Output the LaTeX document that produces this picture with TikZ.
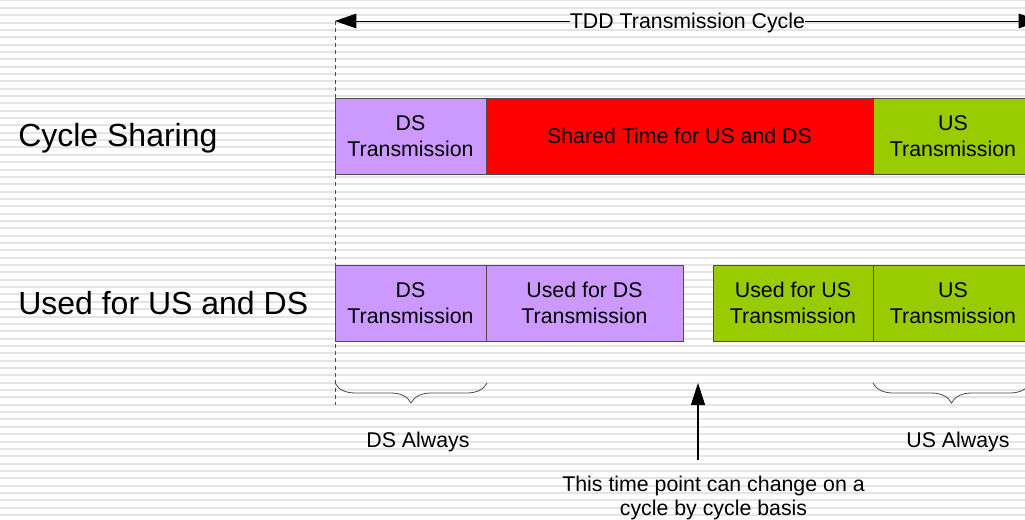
\documentclass[tikz,border=0pt]{standalone}
\usepackage{fontspec}
\setmainfont{Liberation Sans}
\usetikzlibrary{arrows.meta,decorations.pathreplacing}
\definecolor{dsviolet}{HTML}{CC99FF}
\definecolor{usgreen}{HTML}{99CC00}
\definecolor{sharedred}{HTML}{FF0000}
\definecolor{stripegray}{HTML}{E4E4E4}

\begin{document}
\begin{tikzpicture}[x=0.75pt,y=-0.75pt,
    slot/.style={draw=black!70, line width=0.6pt, minimum height=57pt, inner sep=0pt,
      align=center, font=\fontsize{16}{19.5}\selectfont},
    wide/.style={minimum width=#1*0.75pt},
    ds/.style={slot, fill=dsviolet},
    us/.style={slot, fill=usgreen},
    shared/.style={slot, fill=sharedred},
    rowlabel/.style={anchor=west, inner sep=0pt, font=\fontsize{24}{28}\selectfont},
    note/.style={align=center, inner sep=0pt, font=\fontsize{16}{18}\selectfont},
    span/.style={decorate, decoration={brace, mirror, amplitude=15pt}, draw=black!70, line width=0.6pt},
    tip/.style={-{Triangle[length=16pt,width=11pt]}, line width=0.6pt}
  ]
  \clip (0,0) rectangle (1025,520);
  \fill[white] (0,0) rectangle (1025,520);
  \foreach \y in {0.5,7.85,...,520}
    \draw[stripegray, line width=1.5pt] (0,\y) -- (1025,\y);

  \node[ds, wide=151] (ds1) at (410.5,136) {DS\\Transmission};
  \node[shared, wide=387] (sh1) at (679.5,136) {Shared Time for US and DS};
  \node[us, wide=160] (us1) at (953,136) {US\\Transmission};

  \node[ds, wide=151] (ds2) at (410.5,303) {DS\\Transmission};
  \node[ds, wide=197] (dsx) at (584.5,303) {Used for DS\\Transmission};
  \node[us, wide=160] (usx) at (793,303) {Used for US\\Transmission};
  \node[us, wide=160] (us2) at (953,303) {US\\Transmission};

  \node[rowlabel] (cs) at (18,138) {Cycle Sharing};
  \node[rowlabel] (ud) at (18,303.5) {Used for US and DS};

  \coordinate (cycL) at (335,21);
  \coordinate (cycR) at (1040,21);
  \coordinate (dbot) at (335,405);
  \node[note] (cyc) at (687.5,23) {TDD Transmission Cycle};
  \draw[black!70, line width=0.6pt, dash pattern=on 3pt off 2.5pt] (cycL) -- (dbot);
  \draw[tip] (cyc.west |- cycL) -- (cycL);
  \draw[tip] (cyc.east |- cycR) -- (cycR);

  \coordinate (dsA) at (335,383);
  \coordinate (dsB) at (487,383);
  \coordinate (usA) at (873,383);
  \coordinate (usB) at (1030,383);
  \draw[span] (dsA) -- (dsB);
  \draw[span] (usA) -- (usB);
  \node[note] (dsal) at (418,442) {DS Always};
  \node[note] (usal) at (958,442) {US Always};

  \coordinate (pt) at (698,383);
  \coordinate (ptfoot) at (698,460);
  \draw[-{Triangle[length=16.5pt,width=10.5pt]}, line width=0.8pt] (ptfoot) -- (pt);
  \node[note] (chg) at (713.5,497.5) {This time point can change on a\\cycle by cycle basis};
\end{tikzpicture}
\end{document}
